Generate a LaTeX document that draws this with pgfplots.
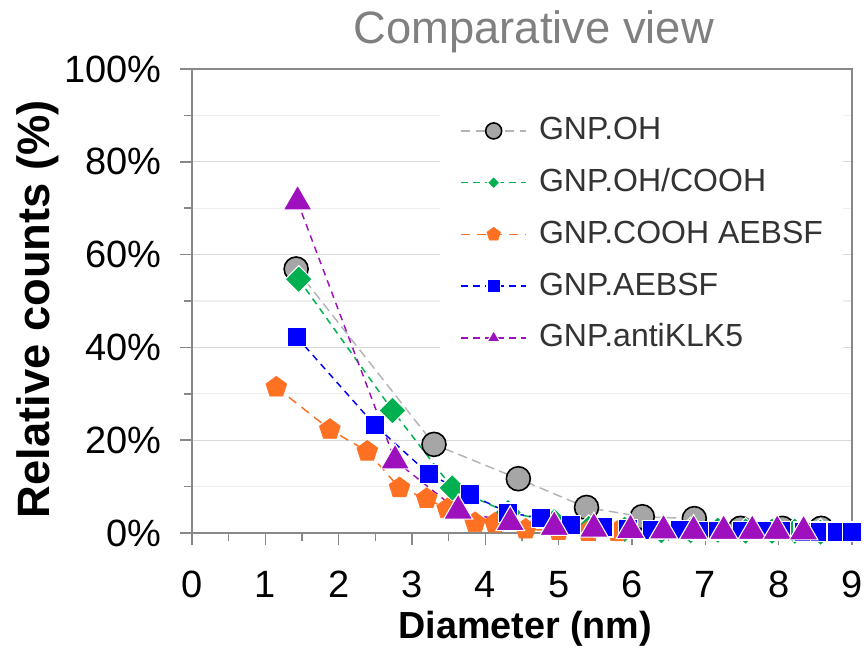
\documentclass[border=0pt]{standalone}
\usepackage{pgfplots}
\pgfplotsset{compat=1.18}
\usetikzlibrary{plotmarks}
\usepackage{fontspec}
\setmainfont{Liberation Sans}
\definecolor{axgray}{HTML}{888888}
\definecolor{gridmaj}{HTML}{D9D9D9}
\definecolor{gridmin}{HTML}{EFEFEF}
\definecolor{titlegray}{HTML}{808080}
\definecolor{cgrayline}{HTML}{B4B4B4}
\definecolor{cgrayfill}{HTML}{A6A6A6}
\definecolor{cgreen}{HTML}{00B050}
\definecolor{corange}{HTML}{FF7122}
\definecolor{cblue}{HTML}{0000FF}
\definecolor{cpurple}{HTML}{9E10BE}
\begin{document}
\begin{tikzpicture}
\path[use as bounding box] (0,0) rectangle (651pt,486pt);
\begin{axis}[
  at={(144pt,86.25pt)}, anchor=south west,
  scale only axis, width=495pt, height=348pt,
  xmin=0, xmax=9, ymin=0, ymax=100,
  clip=false,
  xtick={0,1,...,9}, minor x tick num=1,
  ytick={0,20,...,100}, minor y tick num=1,
  tick align=outside, tick pos=left,
  major tick length=9pt, minor tick length=6pt,
  axis line style={draw=axgray, line width=1.1pt},
  every tick/.style={draw=axgray, line width=1.1pt},
  ymajorgrids, yminorgrids,
  major grid style={draw=gridmaj, line width=1pt},
  minor grid style={draw=gridmin, line width=1pt},
  /pgf/number format/assume math mode=true,
  ticklabel style={font=\fontsize{28.5}{30}\selectfont, inner sep=0pt},
  yticklabel={\pgfmathprintnumber{\tick}\%},
  yticklabel style={anchor=east, xshift=-13.5pt},
  xticklabel style={anchor=north, yshift=-19.5pt},
  title={Comparative view},
  title style={at={(rel axis cs:0.518,1)}, anchor=base, yshift=13pt,
    font=\fontsize{34}{36}\selectfont, text=titlegray},
  xlabel={Diameter (nm)},
  xlabel style={at={(rel axis cs:0.505,0)}, anchor=base, yshift=-79.5pt,
    font=\bfseries\fontsize{28.3}{30}\selectfont},
  ylabel={Relative counts (\%)},
  ylabel style={at={(rel axis cs:-0.2152,0.4828)}, anchor=base,
    font=\bfseries\fontsize{34}{36}\selectfont},
  legend style={at={(rel axis cs:0.3758,0.9267)}, anchor=north west,
    draw=none, fill=white, inner xsep=15pt, inner ysep=10pt,
    font=\fontsize{24}{24}\selectfont, text=black!80,
    row sep=17.3pt,
    nodes={inner sep=0pt, text height=17.5pt, text depth=4pt},
    /tikz/every odd column/.append style={column sep=9pt}},
  legend cell align=left,
  legend image code/.code={\draw[mark repeat=2,mark phase=2] plot coordinates {(0pt,0pt) (24.5pt,0pt) (49pt,0pt)};},
]
\addplot[color=cgrayline, dash pattern=on 7pt off 4pt, line width=1.1pt,
  mark=*, mark size=9pt, mark options={solid, fill=cgrayfill, draw=black, line width=1.2pt},
  legend image post style={mark size=6pt}]
coordinates {(1.42,56.9) (3.30,19.1) (4.45,11.7) (5.38,5.5) (6.14,3.5) (6.85,3.1) (7.48,1.0) (8.05,1.0) (8.58,1.0)};
\addlegendentry{GNP.OH}
\addplot[color=cgreen, dash pattern=on 5pt off 4pt, line width=1.1pt,
  mark=square*, mark size=7.2pt, mark options={solid, rotate=45, fill=cgreen, draw=white, line width=0.8pt},
  legend image post style={mark size=3.3pt}]
coordinates {(1.455,54.7) (2.735,26.4) (3.55,9.7) (4.31,4.4) (4.94,2.5) (5.41,1.0) (5.9,0.8) (6.4,0.5) (6.8,0.5) (7.17,0.6) (7.55,0.4) (7.91,0.4) (8.22,0.4) (8.57,0.2)};
\addlegendentry{GNP.OH/COOH}
\addplot[color=corange, dash pattern=on 7pt off 5pt, line width=1.1pt,
  mark=pentagon*, mark size=8.2pt, mark options={solid, fill=corange, draw=corange, line width=0.5pt},
  legend image post style={mark size=5.3pt}]
coordinates {(1.15,31.4) (1.88,22.3) (2.39,17.6) (2.83,9.7) (3.2,7.4) (3.48,5.2) (3.86,2.2) (4.13,2.1) (4.55,0.8) (5.0,0.5) (5.4,0.3) (5.8,0.3)};
\addlegendentry{GNP.COOH AEBSF}
\addplot[color=cblue, dash pattern=on 5pt off 4pt, line width=1.1pt,
  mark=square*, mark size=7.2pt, mark options={solid, fill=cblue, draw=white, line width=0.8pt},
  legend image post style={mark size=5pt}]
coordinates {(1.43,42.2) (2.49,23.3) (3.23,12.7) (3.79,8.3) (4.31,4.4) (4.76,3.2) (5.17,1.8) (5.61,1.2) (5.95,0.8) (6.28,0.7) (6.66,0.6) (6.93,0.5) (7.18,0.5) (7.5,0.4) (7.77,0.4) (8.03,0.4) (8.34,0.3) (8.57,0.3) (8.79,0.3) (9.0,0.3)};
\addlegendentry{GNP.AEBSF}
\addplot[color=cpurple, dash pattern=on 5pt off 4pt, line width=1.1pt,
  mark=triangle*, mark size=12.5pt, mark options={solid, fill=cpurple, draw=white, line width=0.8pt},
  legend image post style={mark size=5.5pt}]
coordinates {(1.44,71.4) (2.77,15.6) (3.63,4.8) (4.34,2.3) (4.94,1.3) (5.48,0.9) (5.98,0.6) (6.43,0.5) (6.84,0.4) (7.25,0.4) (7.64,0.4) (7.98,0.4) (8.34,0.3)};
\addlegendentry{GNP.antiKLK5}
\end{axis}
\end{tikzpicture}
\end{document}
